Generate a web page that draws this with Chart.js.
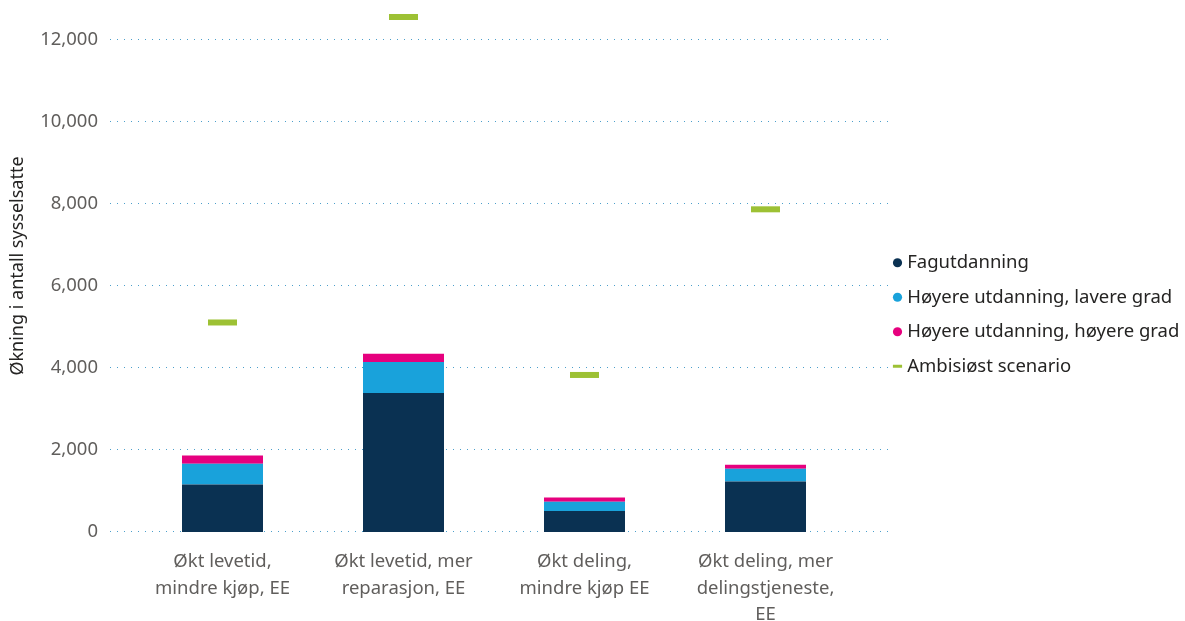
<!DOCTYPE html>
<html>
<head>
<meta charset="utf-8">
<script src="https://cdn.jsdelivr.net/npm/chart.js@4.4.1/dist/chart.umd.min.js"></script>
<style>
  html, body { margin: 0; padding: 0; background: #ffffff; }
  #wrap { width: 1185px; height: 621px; }
</style>
</head>
<body>
<div id="wrap"><canvas id="c" width="1185" height="621"></canvas></div>
<script>
// ---- data ----
const categories = [
  ['Økt levetid,', 'mindre kjøp, EE'],
  ['Økt levetid, mer', 'reparasjon, EE'],
  ['Økt deling,', 'mindre kjøp EE'],
  ['Økt deling, mer', 'delingstjeneste,', 'EE']
];
const fagutdanning = [1160, 3390, 510, 1230];
const hoyereLavere = [505, 755, 230, 315];
const hoyereHoyere = [200, 205, 100, 95];
const ambisiost = [5110, 12560, 3830, 7870];
const yTicks = [0, 2000, 4000, 6000, 8000, 10000, 12000];
const seriesNames = ['Fagutdanning', 'Høyere utdanning, lavere grad', 'Høyere utdanning, høyere grad', 'Ambisiøst scenario'];

const FONT = "'Noto Sans', 'DejaVu Sans', sans-serif";
Chart.defaults.font.family = FONT;

const extGrid = {
  id: 'extGrid',
  beforeDatasetsDraw(chart) {
    const { ctx, chartArea, scales } = chart;
    const y = scales.y;
    ctx.save();
    ctx.strokeStyle = '#4b9fcb';
    ctx.lineWidth = 1;
    ctx.setLineDash([1, 6]);
    const x0 = Math.round(chartArea.left - 22);
    const x1 = Math.round(chartArea.right + 32);
    yTicks.forEach(v => {
      const py = Math.round(y.getPixelForValue(v)) - 0.5;
      ctx.beginPath();
      ctx.moveTo(x0, py);
      ctx.lineTo(x1, py);
      ctx.stroke();
    });
    ctx.restore();
  }
};

new Chart(document.getElementById('c'), {
  data: {
    labels: categories,
    datasets: [
      { type: 'bar', label: seriesNames[0], data: fagutdanning, backgroundColor: '#0a3152', borderWidth: 0, order: 1 },
      { type: 'bar', label: seriesNames[1], data: hoyereLavere, backgroundColor: '#19a2db', borderWidth: 0, order: 1 },
      { type: 'bar', label: seriesNames[2], data: hoyereHoyere, backgroundColor: '#e6007e', borderWidth: 0, order: 1 },
      { type: 'line', label: seriesNames[3], data: ambisiost, showLine: false,
        pointStyle: 'line', pointRadius: 14.5, pointHoverRadius: 14.5,
        pointBorderWidth: 6, pointHoverBorderWidth: 6,
        borderColor: '#9dc134', backgroundColor: '#9dc134',
        pointBorderColor: '#9dc134', pointBackgroundColor: '#9dc134', order: 0, clip: false }
    ]
  },
  options: {
    responsive: false,
    devicePixelRatio: 1,
    animation: false,
    layout: { padding: 0, autoPadding: false },
    datasets: { bar: { categoryPercentage: 1, barPercentage: 0.4475 } },
    scales: {
      x: {
        stacked: true,
        grid: { display: false, drawTicks: false },
        border: { display: false },
        ticks: {
          color: '#605e5c',
          font: { size: 18.5, lineHeight: 1.43 },
          padding: 17,
          maxRotation: 0,
          autoSkip: false
        },
        afterFit(s) { s.height = 89; s.paddingLeft = 0; s.paddingRight = 0; }
      },
      y: {
        stacked: true,
        min: 0,
        max: 12975,
        grid: { display: false, drawTicks: false },
        border: { display: false },
        afterBuildTicks(s) { s.ticks = yTicks.map(v => ({ value: v })); },
        ticks: {
          color: '#605e5c',
          font: { size: 18.5 },
          padding: 34,
          callback: v => v.toLocaleString('en-US')
        },
        title: {
          display: true,
          text: 'Økning i antall sysselsatte',
          color: '#252423',
          font: { size: 18 },
          padding: { top: 7, bottom: 0 }
        },
        afterFit(s) { s.width = 132; s.paddingTop = 0; s.paddingBottom = 0; }
      },
      y2: {
        position: 'right',
        display: true,
        grid: { display: false, drawTicks: false },
        border: { display: false },
        ticks: { display: false },
        afterFit(s) { s.width = 25; s.paddingTop = 0; s.paddingBottom = 0; }
      }
    },
    plugins: {
      tooltip: { enabled: false },
      legend: {
        position: 'right',
        align: 'center',
        maxWidth: 304,
        title: { display: true, text: ' ', font: { size: 1 }, padding: 3.4 },
        labels: {
          usePointStyle: true,
          boxWidth: 1,
          boxHeight: 6.5,
          padding: 16,
          color: '#252423',
          font: { size: 18.5 },
          sort: (a, b) => a.datasetIndex - b.datasetIndex,
          generateLabels(chart) {
            const items = Chart.defaults.plugins.legend.labels.generateLabels(chart);
            items.forEach(it => {
              if (it.pointStyle === 'line') { it.lineWidth = 3; }
              else { it.pointStyle = 'circle'; it.lineWidth = 0; }
            });
            return items;
          }
        }
      }
    }
  },
  plugins: [extGrid]
});
</script>
</body>
</html>
